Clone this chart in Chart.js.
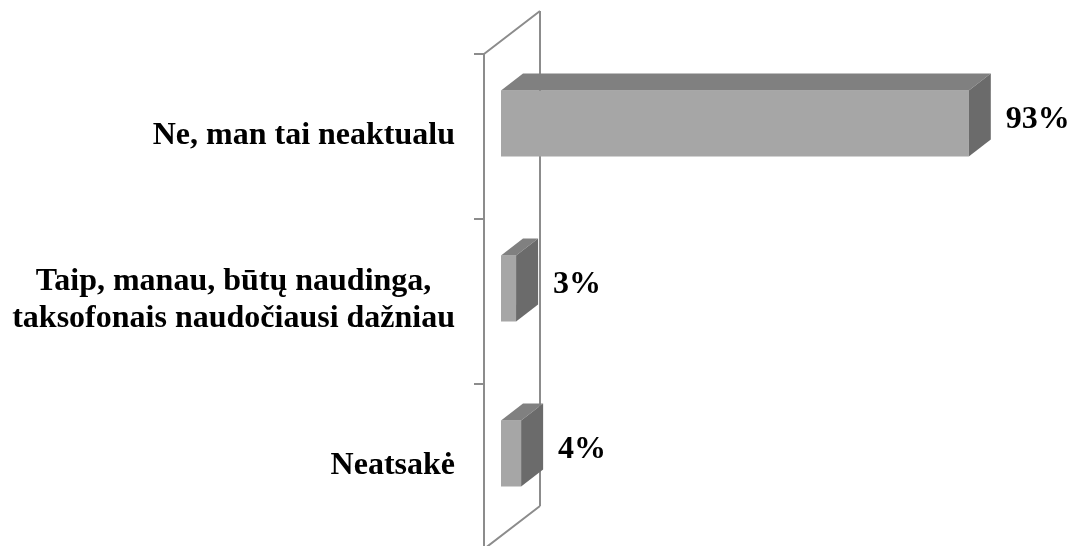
<!DOCTYPE html>
<html>
<head>
<meta charset="utf-8">
<script src="https://cdn.jsdelivr.net/npm/chart.js@4/dist/chart.umd.min.js"></script>
<style>
  html, body { margin: 0; padding: 0; background: #fff; }
  #wrap { width: 1072px; height: 546px; }
</style>
</head>
<body>
<div id="wrap"><canvas id="chart"></canvas></div>
<script>
// chart data
const categories = [
    ['Ne, man tai neaktualu'],
    ['Taip, manau, būtų naudinga,', 'taksofonais naudočiausi dažniau'],
    ['Neatsakė']
];
const values = [93, 3, 4];
const valueLabels = ['93%', '3%', '4%'];

// 3d look: bars sit on a plane between the front and the back wall
const DEPTH_X = 22, DEPTH_Y = -17;      // bar depth
const FRONT_X = -17, FRONT_Y = 13;      // front wall from bar plane
const BACK_X = 39, BACK_Y = -30;        // back wall from bar plane
const WALL = '#8c8c8c';
const FONT = 'bold 32px "Liberation Serif", "Times New Roman", serif';

const wallsPlugin = {
    id: 'walls',
    beforeDatasetsDraw(chart) {
        const ctx = chart.ctx;
        const y = chart.scales.y;
        const left = chart.chartArea.left;
        const top = y.top, bottom = y.bottom;
        const band = (bottom - top) / categories.length;
        ctx.save();
        ctx.strokeStyle = WALL;
        ctx.lineWidth = 2;
        ctx.beginPath();
        // front line
        ctx.moveTo(left + FRONT_X, top + FRONT_Y);
        ctx.lineTo(left + FRONT_X, bottom + FRONT_Y);
        // back line
        ctx.moveTo(left + BACK_X, top + BACK_Y);
        ctx.lineTo(left + BACK_X, bottom + BACK_Y);
        // diagonals
        ctx.moveTo(left + FRONT_X, top + FRONT_Y);
        ctx.lineTo(left + BACK_X, top + BACK_Y);
        ctx.moveTo(left + FRONT_X, bottom + FRONT_Y);
        ctx.lineTo(left + BACK_X, bottom + BACK_Y);
        // tick marks
        for (let i = 0; i <= categories.length; i++) {
            const ty = top + i * band + FRONT_Y;
            ctx.moveTo(left + FRONT_X - 10, ty);
            ctx.lineTo(left + FRONT_X, ty);
        }
        ctx.stroke();

        // category labels: block right aligned, lines centred within the block
        ctx.fillStyle = '#000';
        ctx.font = FONT;
        ctx.textAlign = 'center';
        ctx.textBaseline = 'middle';
        const right = left - 46;
        const lineH = 37;
        categories.forEach((lines, i) => {
            const cy = y.getPixelForValue(i) + 12;
            const w = Math.max(...lines.map(s => ctx.measureText(s).width));
            const cx = right - w / 2;
            lines.forEach((s, k) => {
                ctx.fillText(s, cx, cy + (k - (lines.length - 1) / 2) * lineH);
            });
        });
        ctx.restore();
    },
    afterDatasetsDraw(chart) {
        const ctx = chart.ctx;
        const meta = chart.getDatasetMeta(0);
        ctx.save();
        meta.data.forEach((bar, i) => {
            const p = bar.getProps(['x', 'y', 'base', 'height'], true);
            const t = p.y - p.height / 2, b = p.y + p.height / 2;
            // top face
            ctx.fillStyle = '#808080';
            ctx.beginPath();
            ctx.moveTo(p.base, t);
            ctx.lineTo(p.base + DEPTH_X, t + DEPTH_Y);
            ctx.lineTo(p.x + DEPTH_X, t + DEPTH_Y);
            ctx.lineTo(p.x, t);
            ctx.closePath();
            ctx.fill();
            // side face
            ctx.fillStyle = '#6b6b6b';
            ctx.beginPath();
            ctx.moveTo(p.x, t);
            ctx.lineTo(p.x + DEPTH_X, t + DEPTH_Y);
            ctx.lineTo(p.x + DEPTH_X, b + DEPTH_Y);
            ctx.lineTo(p.x, b);
            ctx.closePath();
            ctx.fill();
            // value label
            ctx.fillStyle = '#000';
            ctx.font = FONT;
            ctx.textAlign = 'left';
            ctx.textBaseline = 'middle';
            ctx.fillText(valueLabels[i], p.x + DEPTH_X + 15, p.y - 4);
        });
        ctx.restore();
    }
};

new Chart(document.getElementById('chart'), {
    type: 'bar',
    data: {
        labels: categories,
        datasets: [{
            data: values,
            backgroundColor: '#a6a6a6',
            borderWidth: 0,
            barPercentage: 0.4,
            categoryPercentage: 1
        }]
    },
    options: {
        indexAxis: 'y',
        responsive: true,
        maintainAspectRatio: false,
        animation: false,
        layout: { padding: { top: 41, bottom: 10, right: 68, left: 0 } },
        plugins: { legend: { display: false }, tooltip: { enabled: false } },
        scales: {
            x: { display: false, min: 0, max: 100 },
            y: {
                grid: { display: false, drawTicks: false },
                border: { display: false },
                ticks: { display: false },
                afterFit(scale) {
                    scale.width = 501;
                    scale.paddingTop = 0;
                    scale.paddingBottom = 0;
                }
            }
        }
    },
    plugins: [wallsPlugin]
});
</script>
</body>
</html>
